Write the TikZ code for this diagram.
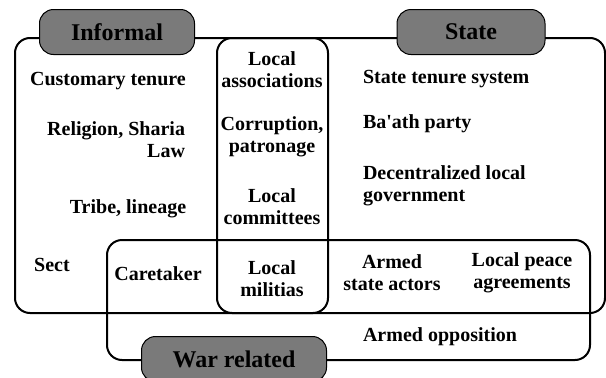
\documentclass[tikz,border=0pt]{standalone}
\usepackage{fontspec}
\setmainfont{Liberation Serif}
\usetikzlibrary{positioning}

\begin{document}
\begin{tikzpicture}
      [x=1pt,y=-1pt,line width=2pt,
       every node/.style={font=\bfseries\fontsize{20}{22}\selectfont,inner sep=0pt},
       region/.style={draw,rounded corners=15pt},
       tag/.style={draw,fill=black!52,rounded corners=14pt,line width=1pt,
                   font=\bfseries\fontsize{24}{26}\selectfont}]
      \useasboundingbox (0,0) rectangle (606,378);

      % regions
      \draw[region] (15,38) rectangle (605,313);
      \draw[region] (217,38) rectangle (328,313);
      \draw[region] (107,240) rectangle (590,360);

      % region labels
      \node[tag,minimum width=155pt,minimum height=45pt] (informal) at (117,32) {Informal};
      \node[tag,minimum width=148pt,minimum height=45pt] (state) at (471,32) {State};
      \node[tag,minimum width=185pt,minimum height=45pt] (war) at (234,359) {War related};

      % informal
      \node (customary) at (108,81) {Customary tenure};
      \node[anchor=east,align=right] (religion) at (186,140) {Religion, Sharia\\Law};
      \node (tribe) at (128,209) {Tribe, lineage};
      \node (sect) at (52,265) {Sect};
      \node (caretaker) at (158,274) {Caretaker};

      % overlap
      \node[align=center] (assoc) at (272,70) {Local\\associations};
      \node[align=center] (corruption) at (272,137) {Corruption,\\patronage};
      \node[align=center] (committees) at (272,207) {Local\\committees};
      \node[align=center] (militias) at (272,279) {Local\\militias};

      % state
      \node[anchor=west] (tenure) at (362,79) {State tenure system};
      \node[anchor=west] (baath) at (362,124) {Ba\textquotesingle ath party};
      \node[anchor=west,align=left] (decentral) at (362,186) {Decentralized local\\government};
      \node[align=center] (armed) at (392,273) {Armed\\state actors};
      \node[align=center] (peace) at (522,273) {Local peace\\agreements};
      \node (opposition) at (440,337) {Armed opposition};

    \end{tikzpicture}
\end{document}
